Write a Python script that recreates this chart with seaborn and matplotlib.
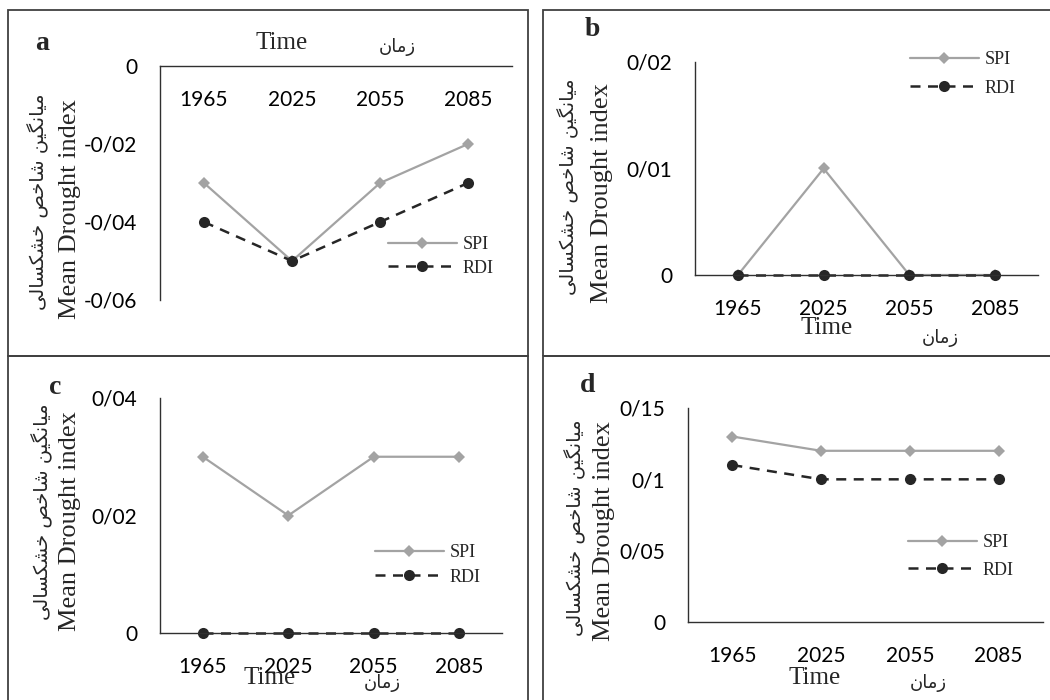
import seaborn as sns
import matplotlib.pyplot as plt
import pandas as pd
from matplotlib.ticker import FuncFormatter

sns.set_theme(style="white")
plt.rcParams['font.family'] = ['Lato', 'DejaVu Sans']

# data
years = ['1965', '2025', '2055', '2085']
spi_a = [-0.03, -0.05, -0.03, -0.02]
rdi_a = [-0.04, -0.05, -0.04, -0.03]
spi_b = [0, 0.01, 0, 0]
rdi_b = [0, 0, 0, 0]
spi_c = [0.03, 0.02, 0.03, 0.03]
rdi_c = [0, 0, 0, 0]
spi_d = [0.13, 0.12, 0.12, 0.12]
rdi_d = [0.11, 0.10, 0.10, 0.10]
yticks_a = [-0.06, -0.04, -0.02, 0]
yticks_b = [0, 0.01, 0.02]
yticks_c = [0, 0.02, 0.04]
yticks_d = [0, 0.05, 0.1, 0.15]
letters = ['a', 'b', 'c', 'd']

# Persian text, already shaped (presentation forms, visual order)
fa_time = "\uFEE5\uFE8E\uFEE3\uFEAF"
fa_label = ("\uFBFD\uFEDF\uFE8E\uFEB4\uFB91\uFEB8\uFEA7 "
            "\uFEBA\uFEA7\uFE8E\uFEB7 "
            "\uFEE6\uFBFF\uFB95\uFEE7\uFE8E\uFBFF\uFEE3")

W, H = 1050, 700
fig = plt.figure(figsize=(10.5, 7), dpi=100)

def fx(x):
    return x / W

def fy(y):
    return 1 - y / H

# panel frames
for x0, y0, x1, y1 in [(8, 10, 528, 356), (543, 10, 1052, 356),
                       (8, 356, 528, 702), (543, 356, 1052, 702)]:
    fig.add_artist(plt.Rectangle((fx(x0), fy(y1)), fx(x1 - x0), (y1 - y0) / H,
                                 transform=fig.transFigure, fill=False,
                                 edgecolor='#404040', linewidth=1.3))

panels = [
    dict(spi=spi_a, rdi=rdi_a, yt=yticks_a, box=(160, 66, 512, 300),
         time=(282, 43), fa=(397, 47), let=(42, 43), yl=(70, 209), yfa=(38, 202),
         leg=(388, 256.5, 0.35)),
    dict(spi=spi_b, rdi=rdi_b, yt=yticks_b, box=(695, 62, 1038, 275),
         time=(827, 328), fa=(940, 338), let=(592, 30), yl=(602, 193), yfa=(568, 187),
         leg=(910, 74, 0.63)),
    dict(spi=spi_c, rdi=rdi_c, yt=yticks_c, box=(160, 398, 502, 633),
         time=(270, 678), fa=(382, 683), let=(55, 387), yl=(70, 521), yfa=(42, 512),
         leg=(375, 565, 0.4)),
    dict(spi=spi_d, rdi=rdi_d, yt=yticks_d, box=(688, 408, 1043, 622),
         time=(815, 678), fa=(928, 683), let=(588, 385), yl=(604, 531), yfa=(575, 528),
         leg=(908, 556.5, 0.57)),
]

fmt = FuncFormatter(lambda v, p: ('%g' % (round(v, 4) + 0.0)).replace('.', '/'))

for letter, p in zip(letters, panels):
    x0, y0, x1, y1 = p['box']
    ax = fig.add_axes([fx(x0), fy(y1), fx(x1 - x0), (y1 - y0) / H])
    df = pd.DataFrame({'year': years, 'SPI': p['spi'], 'RDI': p['rdi']})
    sns.lineplot(data=df, x='year', y='SPI', ax=ax, color='#a3a3a3', linewidth=1.6,
                 marker='D', markersize=6, markeredgewidth=0, label='SPI', clip_on=False)
    sns.lineplot(data=df, x='year', y='RDI', ax=ax, color='#262626', linewidth=1.8,
                 linestyle=(0, (4, 3)), marker='o', markersize=8, markeredgewidth=0,
                 label='RDI', clip_on=False)
    ax.set_xlim(-0.5, 3.5)
    ax.set_ylim(min(p['yt']), max(p['yt']))
    ax.set_yticks(p['yt'])
    ax.yaxis.set_major_formatter(fmt)
    ax.set_xlabel('')
    ax.set_ylabel('')
    for s in ['top', 'right']:
        ax.spines[s].set_visible(False)
    ax.spines['bottom'].set_position(('data', 0))
    for s in ['left', 'bottom']:
        ax.spines[s].set_color('#303030')
        ax.spines[s].set_linewidth(1.0)
    ax.tick_params(axis='both', length=0, labelsize=15, colors='black')
    ax.tick_params(axis='x', pad=17.5)
    ax.tick_params(axis='y', pad=16.5)

    lx, ly, ls = p['leg']
    ax.legend(loc='center left', bbox_to_anchor=(fx(lx), fy(ly)),
              bbox_transform=fig.transFigure, frameon=False, borderpad=0,
              borderaxespad=0, handlelength=3.8, handletextpad=0.35,
              labelspacing=ls, prop={'family': 'Liberation Serif', 'size': 13})

    fig.text(fx(p['time'][0]), fy(p['time'][1]), 'Time', family='Liberation Serif',
             fontsize=18, ha='center', va='center')
    fig.text(fx(p['fa'][0]), fy(p['fa'][1]), fa_time, family='DejaVu Sans',
             fontsize=13, ha='center', va='center')
    fig.text(fx(p['let'][0]), fy(p['let'][1]), letter, family='Liberation Serif',
             fontsize=20, fontweight='bold', ha='center', va='center')
    fig.text(fx(p['yl'][0]), fy(p['yl'][1]), 'Mean Drought index',
             family='Liberation Serif', fontsize=19, rotation=90,
             ha='center', va='center')
    fig.text(fx(p['yfa'][0]), fy(p['yfa'][1]), fa_label, family='DejaVu Sans',
             fontsize=14, rotation=90, ha='center', va='center')

fig.savefig('out.png', dpi=100, facecolor='white')
